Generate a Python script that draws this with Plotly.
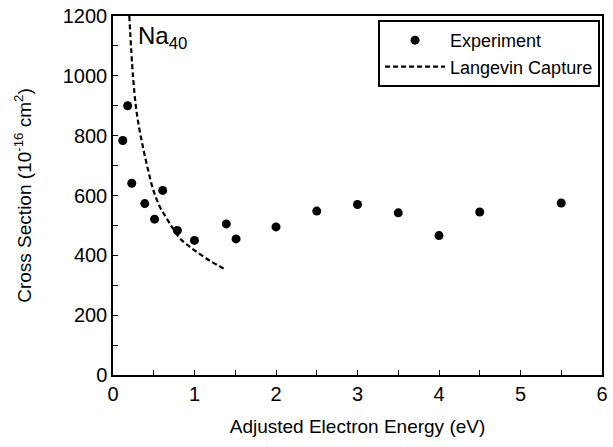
import plotly.graph_objects as go

exp_energy = [0.12, 0.18, 0.23, 0.39, 0.51, 0.61, 0.79, 1.00, 1.39, 1.51, 2.00, 2.50, 3.00, 3.50, 4.00, 4.50, 5.50]
exp_sigma = [784, 900, 641, 573, 521, 617, 483, 450, 505, 455, 495, 548, 570, 542, 466, 545, 575]

# Langevin capture curve
lang_energy = [0.20, 0.245, 0.28, 0.31, 0.35, 0.39, 0.44, 0.49, 0.57, 0.66, 0.74, 0.82, 0.92, 1.02, 1.20, 1.38]
lang_sigma = [1200, 1000, 900, 843, 785, 733, 675, 622, 565, 523, 488, 457, 433, 413, 380, 353]

FONT = "Liberation Sans, Arial, Helvetica, sans-serif"

fig = go.Figure()
fig.add_trace(go.Scatter(
    x=exp_energy, y=exp_sigma, mode="markers", name="Experiment",
    marker=dict(color="black", size=9),
))
fig.add_trace(go.Scatter(
    x=lang_energy, y=lang_sigma, mode="lines", name="Langevin Capture",
    line=dict(color="black", width=2.2, dash="5px,3px", shape="spline"),
))

fig.add_annotation(
    x=0.28, y=1128, xref="x", yref="y", text="Na<sub>40</sub>",
    showarrow=False, xanchor="left", yanchor="middle",
    font=dict(family=FONT, size=24, color="black"),
)

fig.update_layout(
    width=613, height=447,
    margin=dict(l=113, r=5, t=12, b=72),
    paper_bgcolor="white", plot_bgcolor="white",
    font=dict(family=FONT, size=19, color="black"),
    showlegend=True,
    legend=dict(
        x=0.996, y=0.989, xanchor="right", yanchor="top",
        bordercolor="black", borderwidth=2, bgcolor="white",
        font=dict(family=FONT, size=18, color="black"),
        tracegroupgap=0, itemwidth=60,
    ),
    xaxis=dict(
        range=[0, 6], dtick=1, tick0=0,
        showgrid=False, zeroline=False,
        showline=True, linecolor="black", linewidth=1.5, mirror=True,
        ticks="inside", ticklen=5, tickwidth=1, tickcolor="black",
        minor=dict(dtick=0.5, ticks="inside", ticklen=5, tickwidth=1, tickcolor="black"),
        tickfont=dict(family=FONT, size=20),
        title=dict(text="Adjusted Electron Energy (eV)", font=dict(family=FONT, size=19), standoff=16),
    ),
    yaxis=dict(
        range=[0, 1200], dtick=200, tick0=0,
        showgrid=False, zeroline=False,
        showline=True, linecolor="black", linewidth=1.5, mirror=True,
        ticks="inside", ticklen=5, tickwidth=1, tickcolor="black",
        minor=dict(dtick=100, ticks="inside", ticklen=5, tickwidth=1, tickcolor="black"),
        tickfont=dict(family=FONT, size=20),
        title=dict(text="Cross Section (10<sup>-16</sup> cm<sup>2</sup>)", font=dict(family=FONT, size=19), standoff=26),
    ),
)

fig.write_html("out.html")
